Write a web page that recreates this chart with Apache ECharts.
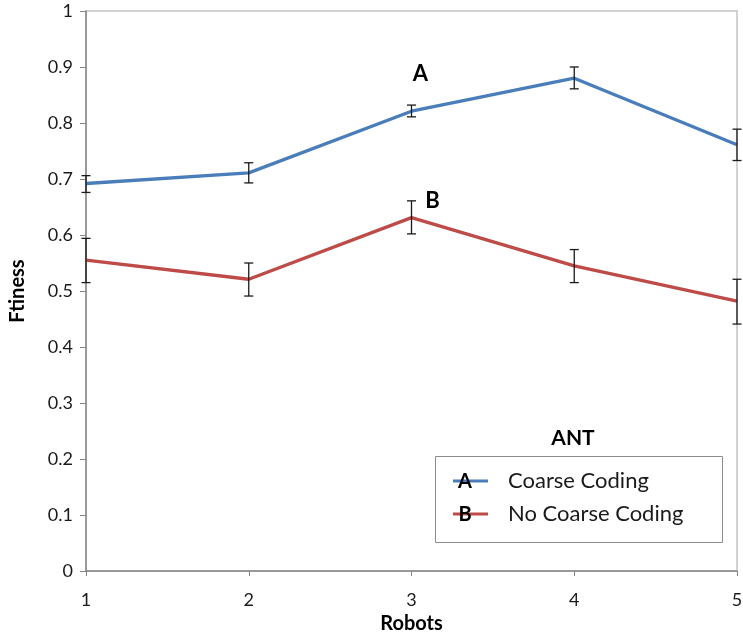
<!DOCTYPE html>
<html>
<head>
<meta charset="utf-8">
<script src="https://cdn.jsdelivr.net/npm/echarts@6/dist/echarts.min.js"></script>
<style>html,body{margin:0;padding:0;background:#fff}#c{width:743px;height:636px}</style>
</head>
<body>
<div id="c"></div>
<script>
var robots = ['1', '2', '3', '4', '5'];
var coarseMean = [0.692, 0.711, 0.821, 0.880, 0.761];
var coarseLow  = [0.676, 0.693, 0.811, 0.861, 0.733];
var coarseHigh = [0.706, 0.729, 0.832, 0.900, 0.789];
var noCoarseMean = [0.555, 0.521, 0.631, 0.545, 0.482];
var noCoarseLow  = [0.515, 0.491, 0.602, 0.515, 0.441];
var noCoarseHigh = [0.594, 0.550, 0.661, 0.574, 0.521];
var yTicks = [0, 0.1, 0.2, 0.3, 0.4, 0.5, 0.6, 0.7, 0.8, 0.9, 1];

var FONT = 'Lato';
var chart = echarts.init(document.getElementById('c'));

function errData(lo, hi) {
  return robots.map(function (r, i) { return [i, lo[i], hi[i]]; });
}
function renderErr(params, api) {
  var x = api.value(0);
  var lo = api.coord([x, api.value(1)]);
  var hi = api.coord([x, api.value(2)]);
  var w = 4.5;
  var st = { stroke: '#1a1a1a', lineWidth: 1.3 };
  return {
    type: 'group',
    children: [
      { type: 'line', shape: { x1: lo[0], y1: lo[1], x2: hi[0], y2: hi[1] }, style: st },
      { type: 'line', shape: { x1: lo[0] - w, y1: lo[1], x2: lo[0] + w, y2: lo[1] }, style: st },
      { type: 'line', shape: { x1: hi[0] - w, y1: hi[1], x2: hi[0] + w, y2: hi[1] }, style: st }
    ]
  };
}

chart.setOption({
  animation: false,
  textStyle: { fontFamily: FONT },
  title: {
    text: 'ANT', left: 568, top: 423, textAlign: 'center',
    textStyle: { fontFamily: FONT, fontWeight: 'bold', fontSize: 21, color: '#000' }
  },
  grid: { left: 86, right: 6, top: 11, bottom: 65, show: true, borderColor: '#c4c4c4', borderWidth: 1.5, containLabel: false, outerBoundsMode: 'none' },
  legend: {
    orient: 'vertical', left: 448, top: 465, itemWidth: 35, itemHeight: 3, itemGap: 11,
    icon: 'rect',
    textStyle: { fontFamily: FONT, fontSize: 22, lineHeight: 22, color: '#1a1a1a', padding: [0, 0, 0, 15] },
    data: ['Coarse Coding', 'No Coarse Coding']
  },
  xAxis: {
    type: 'category', data: robots, boundaryGap: false,
    name: 'Robots', nameLocation: 'middle', nameGap: 43,
    nameTextStyle: { fontFamily: FONT, fontWeight: 'bold', fontSize: 20, color: '#000' },
    axisLine: { lineStyle: { color: '#868686', width: 1.5 } },
    axisTick: { show: true, alignWithLabel: true, length: 5, lineStyle: { color: '#868686' } },
    axisLabel: { fontSize: 18, color: '#1a1a1a', margin: 20 },
    splitLine: { show: false }
  },
  yAxis: {
    type: 'value', min: 0, max: 1, interval: 0.1,
    name: 'Ftiness', nameLocation: 'middle', nameGap: 58, nameRotate: 90,
    nameTextStyle: { fontFamily: FONT, fontWeight: 'bold', fontSize: 20, color: '#000' },
    axisLine: { show: true, lineStyle: { color: '#868686', width: 1.5 } },
    axisTick: { show: true, length: 6, lineStyle: { color: '#868686' } },
    axisLabel: {
      fontSize: 18, color: '#1a1a1a', margin: 13,
      formatter: function (v) {
        for (var i = 0; i < yTicks.length; i++) if (Math.abs(yTicks[i] - v) < 1e-9) return String(yTicks[i]);
        return '';
      }
    },
    splitLine: { show: false }
  },
  series: [
    {
      name: 'Coarse Coding', type: 'line', data: coarseMean, symbol: 'none',
      lineStyle: { color: '#4A7EBB', width: 3.3 }, itemStyle: { color: '#4A7EBB' }, z: 3,
      markPoint: {
        symbol: 'rect', symbolSize: 1, itemStyle: { color: 'transparent' },
        label: { show: true, formatter: 'A', fontFamily: FONT, fontWeight: 'bold', fontSize: 22, color: '#000', offset: [9, -37] },
        data: [{ coord: [2, coarseMean[2]] }]
      }
    },
    {
      name: 'No Coarse Coding', type: 'line', data: noCoarseMean, symbol: 'none',
      lineStyle: { color: '#BE4B48', width: 3.3 }, itemStyle: { color: '#BE4B48' }, z: 3,
      markPoint: {
        symbol: 'rect', symbolSize: 1, itemStyle: { color: 'transparent' },
        label: { show: true, formatter: 'B', fontFamily: FONT, fontWeight: 'bold', fontSize: 22, color: '#000', offset: [21, -17] },
        data: [{ coord: [2, noCoarseMean[2]] }]
      }
    },
    { type: 'custom', renderItem: renderErr, data: errData(coarseLow, coarseHigh), z: 4, silent: true },
    { type: 'custom', renderItem: renderErr, data: errData(noCoarseLow, noCoarseHigh), z: 4, silent: true }
  ],
  graphic: [
    { type: 'rect', left: 433, top: 454, shape: { width: 287, height: 86 }, style: { fill: 'none', stroke: '#8c8c8c', lineWidth: 1 }, z: 0 },
    { type: 'text', x: 465, y: 482, style: { text: 'A', font: 'bold 20px ' + FONT, fill: '#000', align: 'center', verticalAlign: 'middle' }, z: 100 },
    { type: 'text', x: 465, y: 515, style: { text: 'B', font: 'bold 20px ' + FONT, fill: '#000', align: 'center', verticalAlign: 'middle' }, z: 100 }
  ]
});
</script>
</body>
</html>
